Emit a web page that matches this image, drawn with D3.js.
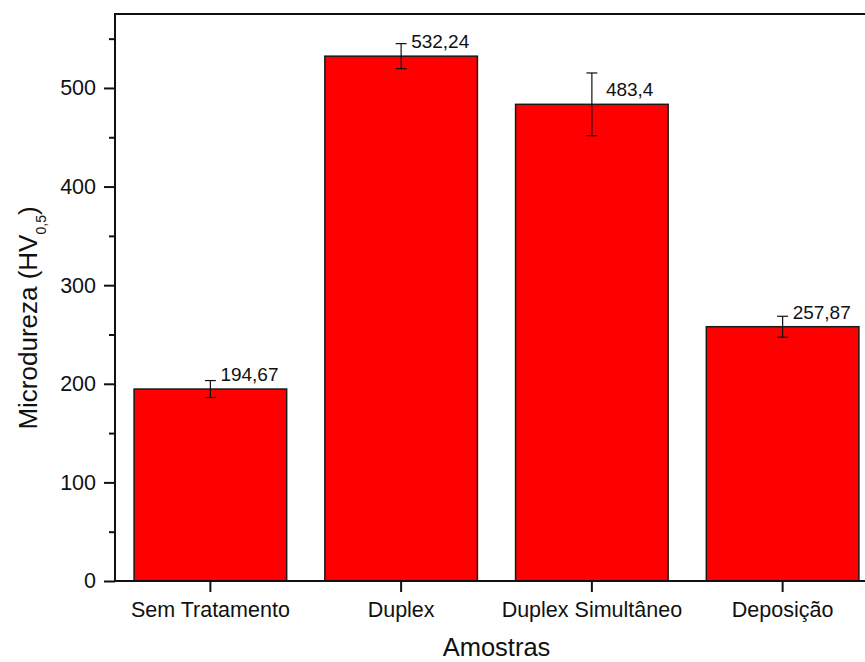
<!DOCTYPE html>
<html>
<head>
<meta charset="utf-8">
<script src="https://cdn.jsdelivr.net/npm/d3@7"></script>
<style>
  html, body { margin: 0; padding: 0; background: #ffffff; }
  svg { display: block; font-family: "Liberation Sans", Arial, sans-serif; }
</style>
</head>
<body>
<svg id="chart" width="865" height="662"></svg>
<script>
// Microhardness per sample group (HV0.5), mean and standard deviation
const categories = ["Sem Tratamento", "Duplex", "Duplex Simultâneo", "Deposição"];
const values = [194.67, 532.24, 483.4, 257.87];
const errors = [8.6, 12.7, 31.8, 10.6];
const valueLabels = ["194,67", "532,24", "483,4", "257,87"];
const yTicks = [0, 100, 200, 300, 400, 500];
const yMinorTicks = [50, 150, 250, 350, 450, 550];

const svg = d3.select("#chart");
const plotLeft = 115, plotRight = 878, plotTop = 14, plotBottom = 581;
const FONT = "Liberation Sans, Arial, sans-serif";

const x = d3.scaleBand()
  .domain(categories)
  .range([plotLeft, plotRight])
  .paddingInner(0.2)
  .paddingOuter(0.1);

const y = d3.scaleLinear()
  .domain([0, 575])
  .range([plotBottom, plotTop]);

const data = categories.map((c, i) => ({
  cat: c, value: values[i], err: errors[i], label: valueLabels[i]
}));

// bars
svg.append("g").selectAll("rect")
  .data(data)
  .join("rect")
  .attr("x", d => x(d.cat))
  .attr("y", d => y(d.value))
  .attr("width", x.bandwidth())
  .attr("height", d => y(0) - y(d.value))
  .attr("fill", "#ff0000")
  .attr("stroke", "#1a1a1a")
  .attr("stroke-width", 1.5);

// error bars
const eb = svg.append("g").attr("stroke", "#111").attr("stroke-width", 1.2);
const cx = d => x(d.cat) + x.bandwidth() / 2;
eb.selectAll("line.v").data(data).join("line")
  .attr("class", "v")
  .attr("x1", cx).attr("x2", cx)
  .attr("y1", d => y(d.value + d.err)).attr("y2", d => y(d.value - d.err));
eb.selectAll("line.t").data(data).join("line")
  .attr("class", "t")
  .attr("x1", d => cx(d) - 5.5).attr("x2", d => cx(d) + 5.5)
  .attr("y1", d => y(d.value + d.err)).attr("y2", d => y(d.value + d.err));
eb.selectAll("line.b").data(data).join("line")
  .attr("class", "b")
  .attr("x1", d => cx(d) - 5.5).attr("x2", d => cx(d) + 5.5)
  .attr("y1", d => y(d.value - d.err)).attr("y2", d => y(d.value - d.err));

// value labels, set to the right of each error bar
const labelShift = { "Duplex Simultâneo": 14 };
svg.append("g").selectAll("text")
  .data(data)
  .join("text")
  .attr("x", d => cx(d) + (labelShift[d.cat] || 10))
  .attr("y", d => y(d.value) - 8)
  .attr("font-size", 19)
  .attr("font-family", FONT)
  .attr("fill", "#111")
  .text(d => d.label);

// y axis with major and minor ticks
const yAxis = svg.append("g")
  .attr("transform", `translate(${plotLeft},0)`)
  .call(d3.axisLeft(y).tickValues(yTicks).tickSize(11).tickPadding(8).tickFormat(d3.format("d")));
yAxis.select(".domain").remove();
yAxis.selectAll(".tick line").attr("stroke", "#111").attr("stroke-width", 2);
yAxis.selectAll(".tick text").attr("font-size", 21.5).attr("fill", "#111")
  .attr("font-family", FONT);

const yMinor = svg.append("g")
  .attr("transform", `translate(${plotLeft},0)`)
  .call(d3.axisLeft(y).tickValues(yMinorTicks).tickSize(6).tickFormat(""));
yMinor.select(".domain").remove();
yMinor.selectAll(".tick line").attr("stroke", "#111").attr("stroke-width", 2);

// x axis
const xAxis = svg.append("g")
  .attr("transform", `translate(0,${plotBottom})`)
  .call(d3.axisBottom(x).tickSize(11).tickPadding(10));
xAxis.select(".domain").remove();
xAxis.selectAll(".tick line").attr("stroke", "#111").attr("stroke-width", 2);
xAxis.selectAll(".tick text").attr("font-size", 21.5).attr("fill", "#111")
  .attr("font-family", FONT);

// frame lines
const frame = svg.append("g").attr("stroke", "#111").attr("stroke-width", 2).attr("fill", "none");
frame.append("line").attr("x1", plotLeft).attr("x2", plotLeft).attr("y1", plotTop - 1).attr("y2", plotBottom + 1);
frame.append("line").attr("x1", plotLeft - 1).attr("x2", plotRight).attr("y1", plotBottom).attr("y2", plotBottom);
frame.append("line").attr("x1", plotLeft - 1).attr("x2", plotRight).attr("y1", plotTop).attr("y2", plotTop);
frame.append("line").attr("x1", plotRight).attr("x2", plotRight).attr("y1", plotTop).attr("y2", plotBottom);

// axis titles
svg.append("text")
  .attr("x", (plotLeft + plotRight) / 2)
  .attr("y", 656)
  .attr("text-anchor", "middle")
  .attr("font-size", 25.5)
  .attr("font-family", FONT)
  .attr("fill", "#111")
  .text("Amostras");

const yTitle = svg.append("text")
  .attr("transform", `translate(37,318) rotate(-90)`)
  .attr("text-anchor", "middle")
  .attr("font-size", 26)
  .attr("font-family", FONT)
  .attr("fill", "#111");
yTitle.append("tspan").text("Microdureza (HV");
yTitle.append("tspan").attr("font-size", 14).attr("dy", 9).text("0,5");
yTitle.append("tspan").attr("dy", -9).text(")");
</script>
</body>
</html>
